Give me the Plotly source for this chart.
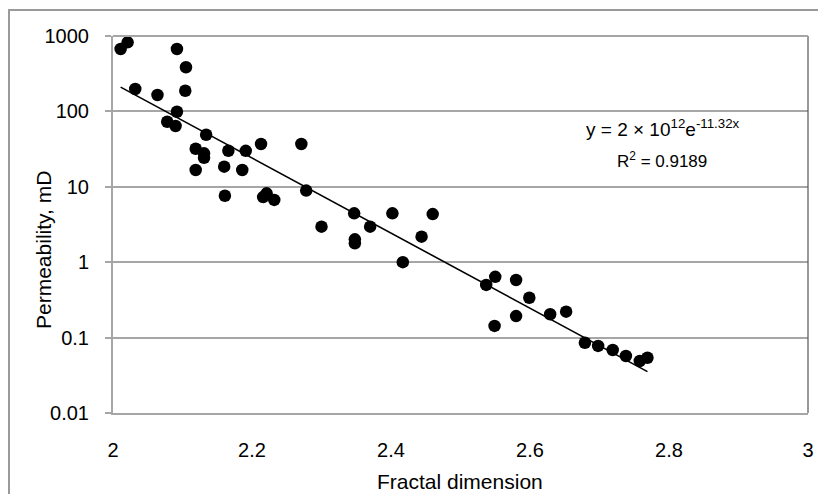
import numpy as np
import plotly.graph_objects as go

fractal_dimension = [
    2.011, 2.021, 2.092, 2.105, 2.104, 2.032, 2.064, 2.092, 2.078, 2.090,
    2.134, 2.119, 2.131, 2.131, 2.119, 2.166, 2.160, 2.191, 2.186, 2.213,
    2.271, 2.161, 2.216, 2.221, 2.232, 2.278, 2.347, 2.300, 2.370, 2.348,
    2.348, 2.402, 2.460, 2.444, 2.417, 2.537, 2.550, 2.580, 2.599, 2.549,
    2.580, 2.629, 2.652, 2.679, 2.698, 2.719, 2.738, 2.758, 2.769,
]
permeability_md = [
    673, 825, 673, 385, 188, 198, 165, 99, 73, 64,
    49, 32, 27.8, 24.3, 16.7, 30.1, 18.5, 30, 16.7, 37,
    37, 7.6, 7.3, 8.2, 6.7, 8.9, 4.45, 2.96, 2.96, 2.01,
    1.78, 4.45, 4.35, 2.18, 1.0, 0.50, 0.64, 0.58, 0.338, 0.143,
    0.193, 0.204, 0.221, 0.0855, 0.0775, 0.0685, 0.057, 0.049, 0.054,
]
x_ticks = [2, 2.2, 2.4, 2.6, 2.8, 3]
x_tick_labels = ["2", "2.2", "2.4", "2.6", "2.8", "3"]
y_ticks = [0.01, 0.1, 1, 10, 100, 1000]
y_tick_labels = ["0.01", "0.1", "1", "10", "100", "1000"]

# Exponential trendline (least squares on ln y), like Excel
xd = np.array(fractal_dimension)
yd = np.array(permeability_md)
b, ln_a = np.polyfit(xd, np.log(yd), 1)
x_fit = np.array([xd.min(), xd.max()])
y_fit = np.exp(ln_a + b * x_fit)

FONT = "Liberation Sans, Arial, sans-serif"
GRID = "#a6a6a6"

# The page body has an 8px margin, so the figure is placed at (8, 8).
W, H = 818, 486
L, T, PW, PH = 105, 28, 695, 377


def px(xs):  # screen x -> paper x
    return (xs - 8 - L) / PW


def py(ys):  # screen y -> paper y
    return (T + PH - (ys - 8)) / PH


fig = go.Figure()
fig.add_trace(go.Scatter(
    x=x_fit, y=y_fit, mode="lines",
    line=dict(color="black", width=1.6), hoverinfo="skip", showlegend=False,
))
fig.add_trace(go.Scatter(
    x=fractal_dimension, y=permeability_md, mode="markers",
    marker=dict(color="black", size=12.5, line=dict(width=0)), showlegend=False,
))

fig.update_layout(
    width=W, height=H,
    margin=dict(l=L, r=W - L - PW, t=T, b=H - T - PH),
    paper_bgcolor="white", plot_bgcolor="white",
    font=dict(family=FONT, size=20, color="black"),
    xaxis=dict(
        range=[2, 3], tickvals=x_ticks, ticktext=x_tick_labels,
        showgrid=False, zeroline=False,
        showline=True, linecolor=GRID, linewidth=2,
        ticks="", ticklabelstandoff=18,
        tickfont=dict(size=20, color="black"),
    ),
    yaxis=dict(
        type="log", range=[-2, 3], tickvals=y_ticks, ticktext=y_tick_labels,
        showgrid=True, gridcolor=GRID, gridwidth=2, zeroline=False,
        showline=True, linecolor=GRID, linewidth=2,
        ticks="outside", ticklen=6, tickcolor=GRID, tickwidth=2,
        ticklabelstandoff=12,
        tickfont=dict(size=20, color="black"),
    ),
    shapes=[
        dict(type="line", xref="paper", yref="paper", x0=1, x1=1, y0=0, y1=1,
             line=dict(color="#555555", width=1.2)),
        dict(type="line", xref="paper", yref="paper", x0=0, x1=1, y0=1, y1=1,
             line=dict(color=GRID, width=2)),
        dict(type="rect", xref="paper", yref="paper",
             x0=px(9), x1=px(840), y0=py(520), y1=py(10),
             line=dict(color="#9a9a9a", width=2), fillcolor="rgba(0,0,0,0)",
             layer="below"),
    ],
    annotations=[
        dict(xref="paper", yref="paper", x=px(663), y=py(128),
             text="y = 2 × 10<sup>12</sup>e<sup>-11.32x</sup>", showarrow=False,
             font=dict(size=19, family=FONT), xanchor="center", yanchor="middle"),
        dict(xref="paper", yref="paper", x=px(662), y=py(160),
             text="R<sup>2</sup> = 0.9189", showarrow=False,
             font=dict(size=17, family=FONT), xanchor="center", yanchor="middle"),
        dict(xref="paper", yref="paper", x=px(460), y=py(481),
             text="Fractal dimension", showarrow=False,
             font=dict(size=21, family=FONT), xanchor="center", yanchor="middle"),
        dict(xref="paper", yref="paper", x=px(43), y=py(250),
             text="Permeability, mD", showarrow=False, textangle=-90,
             font=dict(size=21, family=FONT), xanchor="center", yanchor="middle"),
    ],
)

fig.write_html("out.html")
